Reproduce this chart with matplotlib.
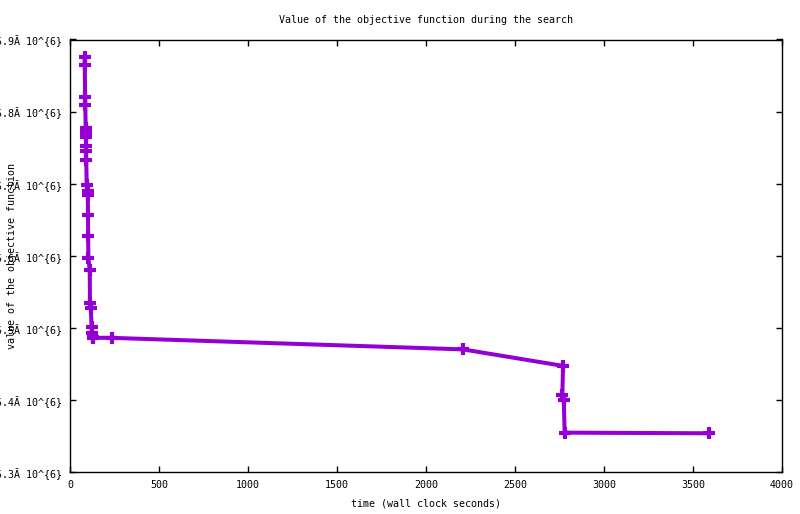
import matplotlib
matplotlib.use("Agg")
from matplotlib import pyplot as plt

# time (wall clock seconds) and objective value (in units of 10^6)
time_s = [82, 83, 85, 86, 88, 89, 89, 90, 90, 90, 91, 94, 99, 100, 101,
          102, 103, 111, 112, 117, 121, 123, 128, 129, 236, 2208, 2770, 2766, 2774, 2779, 3590]
objective = [5.8754, 5.8643, 5.8199, 5.8097, 5.7778, 5.7736, 5.7694, 5.7653, 5.7518, 5.7449,
             5.7333, 5.6986, 5.6893, 5.6847, 5.6569, 5.6268, 5.5972, 5.5796, 5.5351, 5.5274,
             5.5018, 5.4935, 5.4874, 5.4862, 5.4861, 5.4701, 5.4472, 5.4069, 5.4000, 5.3546, 5.3537]

xticks = [0, 500, 1000, 1500, 2000, 2500, 3000, 3500, 4000]
yticks = [5.3, 5.4, 5.5, 5.6, 5.7, 5.8, 5.9]
ytick_labels = ["%.1f\u0102 10^{6}" % v for v in yticks]

plt.rcParams['font.family'] = ['DejaVu Sans Mono']
fs = 7.2

fig = plt.figure(figsize=(8.0, 5.14), dpi=100)
ax = fig.add_axes([70 / 800, 1 - 472 / 514, 712 / 800, 432.5 / 514])

ax.plot(time_s, objective, color='#9400d3', linewidth=2.9,
        marker='+', markersize=9, markeredgewidth=3)

ax.set_xlim(0, 4000)
ax.set_ylim(5.3, 5.9)
ax.set_xticks(xticks)
ax.set_xticklabels([str(t) for t in xticks], fontsize=fs)
ax.set_yticks(yticks)
ax.set_yticklabels(ytick_labels, fontsize=fs)
ax.tick_params(direction='in', length=4.5, width=1, top=True, right=True, pad=6)
for s in ax.spines.values():
    s.set_linewidth(1)

ax.set_title("Value of the objective function during the search", fontsize=fs, pad=12)
ax.set_xlabel("time (wall clock seconds)", fontsize=fs, labelpad=6)
fig.text(12 / 800, 1 - 256 / 514, "value of the objective function", fontsize=fs,
         rotation=90, ha='center', va='center')

fig.savefig("out.png", dpi=100)
